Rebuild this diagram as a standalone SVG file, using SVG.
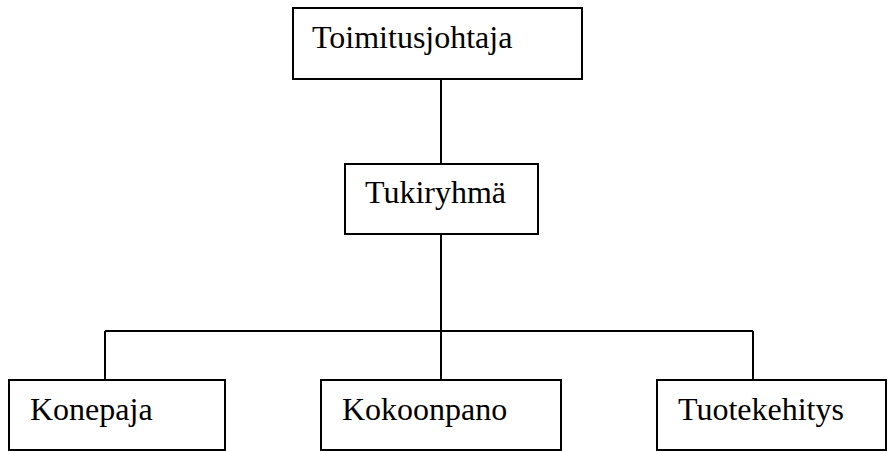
<svg xmlns="http://www.w3.org/2000/svg" width="888" height="451" viewBox="0 0 888 451">
<style>
.box{fill:#fff;stroke:#000;stroke-width:2}
.lbl{font-family:'Liberation Serif',Tinos,Times,'Nimbus Roman','DejaVu Serif',serif;font-size:32px;fill:#000}
.con{fill:none;stroke:#000;stroke-width:2}
</style>
<rect width="888" height="451" fill="#fff"/>
<g id="connectors">
<line class="con" x1="441" y1="79" x2="441" y2="164"/>
<line class="con" x1="441" y1="234" x2="441" y2="380"/>
<line class="con" x1="105" y1="331" x2="753" y2="331"/>
<line class="con" x1="105" y1="331" x2="105" y2="380"/>
<line class="con" x1="753" y1="331" x2="753" y2="380"/>
</g>
<g id="toimitusjohtaja">
<rect class="box" x="293" y="8" width="289" height="71"/>
<text class="lbl" x="312" y="48">Toimitusjohtaja</text>
</g>
<g id="tukiryhma">
<rect class="box" x="345" y="164" width="193" height="70"/>
<text class="lbl" x="365" y="203">Tukiryhmä</text>
</g>
<g id="konepaja">
<rect class="box" x="9" y="380" width="216" height="70"/>
<text class="lbl" x="30" y="420">Konepaja</text>
</g>
<g id="kokoonpano">
<rect class="box" x="321" y="380" width="240" height="70"/>
<text class="lbl" x="342" y="420">Kokoonpano</text>
</g>
<g id="tuotekehitys">
<rect class="box" x="657" y="380" width="229" height="70"/>
<text class="lbl" x="678" y="420">Tuotekehitys</text>
</g>
</svg>
